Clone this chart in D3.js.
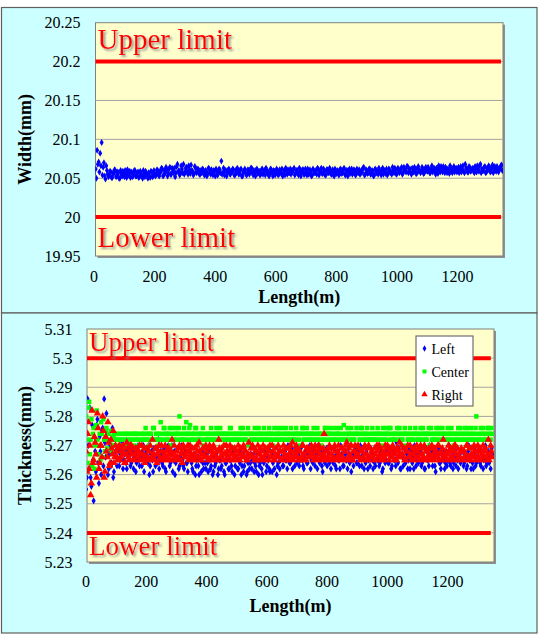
<!DOCTYPE html>
<html>
<head>
<meta charset="utf-8">
<script src="https://cdn.jsdelivr.net/npm/d3@7"></script>
<style>
  body { margin: 0; background: #fff; }
  svg { display: block; }
</style>
</head>
<body>
<div id="chart"></div>
<script>
// two interleaved measurement passes along the strip (m), each every 5 m
const lengthsA = d3.range(2, 1350, 5);
const lengthsB = d3.range(4.5, 1350, 5);

// width readings, deviation above 20 mm in µm
const widthA = [
  56,62,86,71,82,96,64,53,66,55,
  54,58,51,56,60,53,57,50,55,59,52,56,61,54,51,57,55,60,53,58,52,56,50,55,59,54,57,51,58,53,56,
  55,60,53,58,62,54,57,61,56,64,55,59,63,57,68,60,56,62,68,58,64,55,61,67,59,56,63,58,61,55,
  57,61,54,59,56,62,55,58,60,53,
  59,56,61,72,57,54,60,58,62,55,
  58,61,54,57,60,56,62,53,59,57,
  55,60,58,63,54,57,61,56,59,55,
  62,57,54,60,58,56,61,53,59,57,
  60,55,58,62,56,54,59,61,57,55,
  58,63,56,60,54,59,57,61,55,58,
  62,56,59,54,60,57,55,61,58,63,
  56,59,54,61,57,60,55,58,62,56,
  59,55,61,57,63,54,60,58,56,62,
  57,60,55,59,61,56,58,64,55,60,
  57,62,56,59,54,61,58,63,57,60,
  55,59,62,56,61,58,64,57,60,
  56,62,59,64,57,61,58,65,60,57,
  63,58,61,56,65,60,59,62,57,64,
  59,61,57,66,60,58,63,56,62,65,
  58,61,64,57,60,66,59,62,58,63,
  60,57,65,61,59,68,62,58,64,60,
  63,57,61,66,59,68,62,60,65,58,
  61,64,59,67,62,60,65,58,63,67
];
const widthB = [
  62,50,68,58,66,54,70,49,60,52,
  59,51,57,61,52,58,50,60,53,56,60,51,55,59,58,52,60,53,57,51,59,54,60,52,56,50,53,59,52,60,53,
  61,54,59,63,53,60,64,53,62,55,63,57,52,65,58,54,66,57,55,63,58,66,56,60,54,65,57,62,55,60,
  62,55,60,53,63,57,61,54,59,62,
  54,62,57,55,63,60,53,61,56,59,
  62,54,60,63,55,61,53,58,62,54,
  61,55,63,57,60,53,62,58,54,61,
  55,60,63,56,53,62,57,60,54,62,
  54,61,56,53,60,63,55,57,62,60,
  61,54,60,56,63,53,61,55,62,54,
  55,61,53,62,57,60,63,54,61,56,
  62,54,61,57,63,55,61,53,57,60,
  54,62,56,61,55,60,53,62,59,55,
  61,54,62,57,55,60,63,54,61,56,
  62,55,60,53,62,57,55,60,54,63,
  60,56,54,62,57,55,60,63,55,
  63,57,61,55,64,59,65,57,62,55,
  58,64,56,63,59,57,64,56,62,60,
  64,57,62,58,63,55,60,66,58,61,
  65,57,59,62,56,63,57,65,61,58,
  64,62,58,66,57,63,58,65,59,62,
  59,65,58,61,66,57,60,64,57,63,
  66,58,63,57,65,59,62,61,66,60
];

// thickness readings, deviation above 5 mm in µm
const leftA = [
  255,286,262,259,277,251,268,277,264,273,260,276,286,266,274,262,270,264,259,274,
  266,269,263,267,271,265,268,262,267,270,264,268,266,261,269,265,267,263,270,266,
  268,264,260,267,265,269,263,266,272,265,267,263,269,261,266,268,264,270,265,260,
  266,269,263,267,265,262,268,264,270,266,264,261,267,263,266,260,265,268,262,264,
  267,261,265,263,260,266,264,268,262,265,263,267,260,264,266,262,265,261,268,263,
  266,262,264,260,267,263,265,261,266,264,262,267,264,261,265,263,268,260,264,266,
  263,265,261,267,264,262,266,263,268,265,266,263,268,265,270,264,267,262,266,269,
  264,267,265,270,263,266,268,264,267,262,268,265,263,267,270,264,266,261,268,265,
  263,267,265,269,264,266,262,268,265,270,266,263,267,265,269,264,261,267,266,268,
  264,266,270,263,267,265,268,262,266,269,265,267,263,269,266,264,268,262,267,265,
  269,264,266,263,268,265,271,264,267,262,266,269,264,267,265,262,268,266,270,263,
  267,265,269,264,266,262,268,265,270,266,263,268,261,266,269,264,267,265,262,268,
  265,270,263,267,264,266,269,262,267,265,268,264,266,263,270,265,267,262,268,264,
  266,269,263,267,265,270,264,268,266,269
];
const leftB = [
  259,270,283,256,265,273,261,279,257,268,275,263,271,281,260,267,263,276,261,268,
  263,268,265,270,262,267,264,269,266,263,269,262,267,264,270,263,266,268,261,267,
  265,270,263,268,261,266,269,264,262,268,264,269,262,266,270,263,267,261,268,264,
  269,262,266,270,263,267,264,261,268,265,262,266,260,265,263,268,261,264,267,262,
  264,268,262,266,261,263,267,260,265,262,266,261,264,268,262,265,263,267,260,266,
  262,265,268,263,261,266,260,264,262,267,265,261,263,267,260,264,262,265,268,261,
  266,262,268,261,265,267,260,264,262,266,263,268,265,262,267,264,269,266,263,268,
  267,263,269,265,262,268,264,267,270,265,264,269,266,262,265,268,263,267,264,269,
  268,264,262,266,269,263,267,265,262,267,263,268,265,262,267,270,265,263,269,264,
  268,263,266,269,262,264,267,265,263,268,262,264,269,265,263,267,261,266,264,268,
  264,267,262,268,265,263,266,269,262,267,263,265,268,262,269,266,264,262,267,265,
  264,268,263,267,262,269,265,263,266,268,266,263,267,269,264,262,266,268,264,263,
  268,264,266,262,269,263,265,267,264,268,263,267,262,268,265,262,264,269,263,266,
  268,264,267,262,269,263,266,264,262,267
];
const centerA = [
  280,264,285,272,263,276,270,282,267,274,278,266,272,275,269,274,271,268,273,270,
  272,270,274,272,268,274,272,270,272,274,272,274,270,272,274,272,270,274,272,272,
  274,272,270,274,272,276,272,274,270,272,274,272,276,274,272,274,270,276,272,274,
  272,274,280,274,272,276,274,272,274,277,274,272,274,276,272,274,272,274,270,274,
  272,274,272,276,274,272,274,272,274,276,272,274,270,274,272,274,276,272,274,272,
  274,272,274,272,276,274,272,274,270,274,272,274,276,272,274,272,274,272,276,274,
  272,274,272,274,270,276,272,274,272,274,276,272,274,272,274,272,276,274,272,274,
  272,274,270,274,276,272,274,272,274,272,274,276,272,274,272,274,270,274,272,276,
  272,274,272,274,276,272,274,272,274,276,272,277,274,272,274,272,276,274,272,274,
  270,274,272,276,274,272,274,272,274,272,276,274,272,274,272,274,270,276,272,274,
  272,274,276,272,274,272,274,272,276,274,272,274,270,274,272,276,274,272,274,272,
  274,272,276,274,272,274,272,274,270,276,272,274,272,274,276,272,274,272,274,272,
  276,274,272,274,270,274,272,276,274,272,274,272,274,276,272,274,272,274,272,280,
  274,272,276,274,272,274,272,276,274,276
];
const centerB = [
  272,283,267,279,274,262,277,272,270,265,274,279,268,276,272,263,275,270,274,272,
  274,272,272,274,270,272,274,274,272,270,274,272,274,274,272,270,274,272,274,276,
  272,274,274,272,276,272,274,272,274,278,272,276,274,272,274,276,272,274,272,276,
  274,276,272,272,274,272,278,274,276,272,272,274,276,272,274,272,274,276,272,272,
  274,272,274,272,272,274,276,274,272,274,274,272,274,272,274,276,272,274,272,274,
  272,274,276,274,272,272,274,276,274,272,274,272,272,274,276,274,272,274,272,272,
  274,276,274,272,274,272,274,276,274,272,272,274,276,274,272,274,272,272,274,276,
  274,272,274,276,272,274,276,274,272,274,272,274,272,276,274,272,274,272,276,274,
  274,276,274,272,272,274,276,274,272,272,274,272,272,276,274,274,272,272,274,276,
  274,272,276,274,272,274,276,272,272,274,272,272,274,276,274,272,274,272,274,276,
  274,276,272,274,272,274,276,274,272,272,274,276,274,272,274,272,272,274,276,274,
  272,274,272,276,274,272,274,276,274,272,274,272,276,274,272,274,276,274,272,274,
  272,274,276,272,274,272,274,272,276,274,272,276,274,272,274,276,272,274,276,272,
  272,274,272,276,274,272,276,274,272,274
];
const rightA = [
  268,274,262,253,282,265,271,259,276,264,270,280,259,273,266,271,264,269,275,266,
  268,265,270,266,269,267,264,271,266,268,270,265,267,269,266,268,265,270,267,264,
  269,266,268,265,272,267,269,264,268,266,270,265,267,268,266,269,265,272,267,266,
  268,265,270,267,264,269,266,268,265,270,267,265,269,266,268,271,265,267,269,266,
  268,265,270,266,267,269,265,268,272,266,269,265,267,270,266,268,265,269,267,266,
  268,270,265,267,269,266,268,265,271,267,266,269,265,268,270,267,265,268,266,269,
  267,265,270,266,268,265,269,267,266,268,265,270,267,266,269,265,268,271,266,267,
  269,265,268,266,270,267,265,269,266,268,267,265,270,266,268,269,265,267,274,266,
  268,265,269,267,266,270,265,268,267,266,269,265,268,271,266,267,270,265,268,266,
  267,269,265,268,266,270,267,265,269,266,268,265,267,270,266,269,265,268,266,267,
  270,265,268,266,269,267,265,268,271,266,267,269,265,268,266,270,265,267,269,266,
  268,265,270,267,266,269,265,268,267,266,269,265,268,266,270,267,265,272,266,268,
  267,265,269,266,268,270,265,267,266,269,265,268,267,270,266,265,269,267,268,266,
  270,265,268,267,266,269,265,272,267,268
];
const rightB = [
  261,278,270,257,264,273,267,281,262,270,266,275,261,268,278,263,272,267,264,270,
  266,269,265,268,270,264,267,269,265,270,267,269,265,268,266,270,267,265,269,266,
  265,268,270,266,267,265,269,267,270,265,268,266,270,265,269,267,268,265,270,266,
  266,269,265,268,270,266,267,270,268,266,269,267,265,270,266,268,265,269,266,270,
  266,269,265,268,270,267,266,265,269,268,267,270,265,268,266,270,267,265,269,268,
  265,267,269,266,270,268,265,267,266,269,270,266,268,265,267,269,266,270,265,267,
  269,268,266,270,265,267,266,270,268,265,268,266,269,265,267,270,266,265,268,270,
  266,268,265,270,267,265,269,268,266,270,269,266,268,265,270,267,266,269,265,268,
  266,270,267,265,269,268,266,270,265,269,266,268,270,265,269,266,265,268,270,267,
  270,266,268,265,269,267,265,270,266,268,266,269,265,268,270,266,267,265,270,269,
  267,269,266,270,265,268,269,266,267,270,269,265,268,270,266,267,269,265,268,270,
  266,269,267,265,270,268,266,269,265,270,267,269,266,270,265,268,269,266,267,265,
  270,268,266,265,270,267,269,266,268,265,268,266,270,265,269,267,266,270,265,268,
  266,269,265,270,268,266,267,265,270,266
];

const seriesNames = ["Left", "Center", "Right"];
const seriesColors = ["#0000FF", "#00FF00", "#FF0000"];

const lengthTicks = [0, 200, 400, 600, 800, 1000, 1200];
const widthTicks = [19.95, 20, 20.05, 20.1, 20.15, 20.2, 20.25];
const thickTicks = [5.23, 5.24, 5.25, 5.26, 5.27, 5.28, 5.29, 5.3, 5.31];

const limitLabels = ["Upper limit", "Lower limit"];
const widthLimits = [20.2, 20.0];
const thickLimits = [5.30, 5.24];
const limitSpan = [0, 1345];

const serif = "'Liberation Serif', 'Times New Roman', Times, serif";

const svg = d3.select("#chart")
    .append("svg")
    .attr("width", 539)
    .attr("height", 634)
    .attr("font-family", serif);

const defs = svg.append("defs");
defs.append("filter")
    .attr("id", "txtShadow")
    .attr("x", "-5%").attr("y", "-20%")
    .attr("width", "115%").attr("height", "150%")
    .append("feDropShadow")
    .attr("dx", 2).attr("dy", 2)
    .attr("stdDeviation", 1)
    .attr("flood-color", "#808080")
    .attr("flood-opacity", 0.8);

// background, frame, grid, axes, titles and limit lines of one panel
function panel(cfg) {
    const { outer, box, x, y, yTicks, limits, id } = cfg;

    svg.append("rect")
        .attr("x", outer.x).attr("y", outer.y)
        .attr("width", outer.w).attr("height", outer.h)
        .attr("fill", "#CCFFFF")
        .attr("stroke", "#5f5f5f")
        .attr("stroke-width", 1.2);

    svg.append("rect")
        .attr("x", box.left + 2).attr("y", box.top + 2)
        .attr("width", box.right - box.left).attr("height", box.bottom - box.top)
        .attr("fill", "#8f8f8f");

    svg.append("rect")
        .attr("x", box.left).attr("y", box.top)
        .attr("width", box.right - box.left).attr("height", box.bottom - box.top)
        .attr("fill", "#FFFFCC")
        .attr("stroke", "#808080")
        .attr("stroke-width", 1);

    defs.append("clipPath").attr("id", id)
        .append("rect")
        .attr("x", box.left).attr("y", box.top - 3)
        .attr("width", box.right - box.left).attr("height", box.bottom - box.top + 6);

    svg.append("g")
        .selectAll("line")
        .data(yTicks.slice(1, -1))
        .enter().append("line")
        .attr("x1", box.left).attr("x2", box.right)
        .attr("y1", d => y(d)).attr("y2", d => y(d))
        .attr("stroke", "#a3a3a3")
        .attr("stroke-width", 1);

    const yAxis = svg.append("g")
        .attr("transform", `translate(${box.left},0)`)
        .call(d3.axisLeft(y).tickValues(yTicks).tickSize(0).tickPadding(cfg.yPad)
            .tickFormat(d => String(+d.toFixed(2))));
    const xAxis = svg.append("g")
        .attr("transform", `translate(0,${box.bottom})`)
        .call(d3.axisBottom(x).tickValues(lengthTicks).tickSize(0).tickPadding(cfg.xPad)
            .tickFormat(d3.format("d")));
    [yAxis, xAxis].forEach(a => {
        a.select(".domain").remove();
        a.attr("font-family", serif).attr("font-size", 16);
        a.selectAll("text").attr("fill", "#000");
    });

    svg.append("g")
        .attr("clip-path", `url(#${id})`)
        .selectAll("line")
        .data(limits)
        .enter().append("line")
        .attr("x1", x(limitSpan[0])).attr("x2", x(limitSpan[1]))
        .attr("y1", d => y(d)).attr("y2", d => y(d))
        .attr("stroke", "#FF0000")
        .attr("stroke-width", 4);

    svg.selectAll(null)
        .data(limitLabels)
        .enter().append("text")
        .attr("x", box.left + 2)
        .attr("y", (d, i) => i === 0 ? cfg.upperY : cfg.lowerY)
        .attr("fill", "#FF0000")
        .attr("filter", "url(#txtShadow)")
        .attr("font-size", cfg.limitSize)
        .text(d => d);

    svg.append("text")
        .attr("x", (box.left + box.right) / 2)
        .attr("y", cfg.xTitleY)
        .attr("text-anchor", "middle")
        .attr("font-size", 18)
        .attr("font-weight", "bold")
        .text("Length(m)");

    svg.append("text")
        .attr("transform", `translate(31,${(box.top + box.bottom) / 2}) rotate(-90)`)
        .attr("text-anchor", "middle")
        .attr("font-size", 18)
        .attr("font-weight", "bold")
        .text(cfg.yTitle);
}

function readings(arrA, arrB, base) {
    return arrA.map((v, i) => ({ len: lengthsA[i], val: base + v / 1000 }))
        .concat(arrB.map((v, i) => ({ len: lengthsB[i], val: base + v / 1000 })))
        .sort((a, b) => a.len - b.len);
}

// ---- width panel ----
const topBox = { left: 95.5, top: 22.7, right: 503, bottom: 256 };
const xTop = d3.scaleLinear().domain([0, 1350]).range([93.5, 502.5]);
const yTop = d3.scaleLinear().domain([19.95, 20.25]).range([256, 22.7]);

panel({
    outer: { x: 1.5, y: 7.5, w: 535.5, h: 305.5 },
    box: topBox, x: xTop, y: yTop, yTicks: widthTicks, limits: widthLimits,
    id: "clipTop", yPad: 15, xPad: 14.6,
    upperY: 48.5, lowerY: 246.5, limitSize: 29,
    xTitleY: 303, yTitle: "Width(mm)"
});

svg.append("g")
    .attr("clip-path", "url(#clipTop)")
    .selectAll("path")
    .data(readings(widthA, widthB, 20))
    .enter().append("path")
    .attr("transform", d => `translate(${xTop(d.len)},${yTop(d.val)})`)
    .attr("d", d3.symbol().type(d3.symbolDiamond).size(14)())
    .attr("fill", "#0000FF");

// ---- thickness panel ----
const botBox = { left: 87, top: 329, right: 494, bottom: 562 };
const xBot = d3.scaleLinear().domain([0, 1350]).range([85.5, 492.3]);
const yBot = d3.scaleLinear().domain([5.23, 5.31]).range([562, 329]);

panel({
    outer: { x: 1.5, y: 313, w: 535.5, h: 320 },
    box: botBox, x: xBot, y: yBot, yTicks: thickTicks, limits: thickLimits,
    id: "clipBot", yPad: 14.5, xPad: 13.6,
    upperY: 351, lowerY: 555, limitSize: 27,
    xTitleY: 612, yTitle: "Thickness(mm)"
});

const seriesData = [[leftA, leftB], [centerA, centerB], [rightA, rightB]];
const shapes = [
    d3.symbol().type(d3.symbolDiamond).size(15)(),
    d3.symbol().type(d3.symbolSquare).size(20)(),
    d3.symbol().type(d3.symbolTriangle).size(24)()
];

seriesData.forEach((pair, k) => {
    svg.append("g")
        .attr("clip-path", "url(#clipBot)")
        .selectAll("path")
        .data(readings(pair[0], pair[1], 5))
        .enter().append("path")
        .attr("transform", d => `translate(${xBot(d.len)},${yBot(d.val)})`)
        .attr("d", shapes[k])
        .attr("fill", seriesColors[k]);
});

const legendShapes = [
    d3.symbol().type(d3.symbolDiamond).size(12)(),
    d3.symbol().type(d3.symbolSquare).size(16)(),
    d3.symbol().type(d3.symbolTriangle).size(18)()
];

const legend = svg.append("g").attr("transform", "translate(416,336)");
legend.append("rect")
    .attr("x", 0).attr("y", 0)
    .attr("width", 57).attr("height", 70)
    .attr("fill", "#fff")
    .attr("stroke", "#6f6f6f")
    .attr("stroke-width", 1.2);

const items = legend.selectAll(".item")
    .data(seriesNames)
    .enter().append("g")
    .attr("class", "item")
    .attr("transform", (d, i) => `translate(0,${12.5 + i * 23})`);

items.append("path")
    .attr("transform", "translate(8.5,0)")
    .attr("d", (d, i) => legendShapes[i])
    .attr("fill", (d, i) => seriesColors[i]);

items.append("text")
    .attr("x", 15.5)
    .attr("y", 5)
    .attr("font-size", 14)
    .text(d => d);
</script>
</body>
</html>
